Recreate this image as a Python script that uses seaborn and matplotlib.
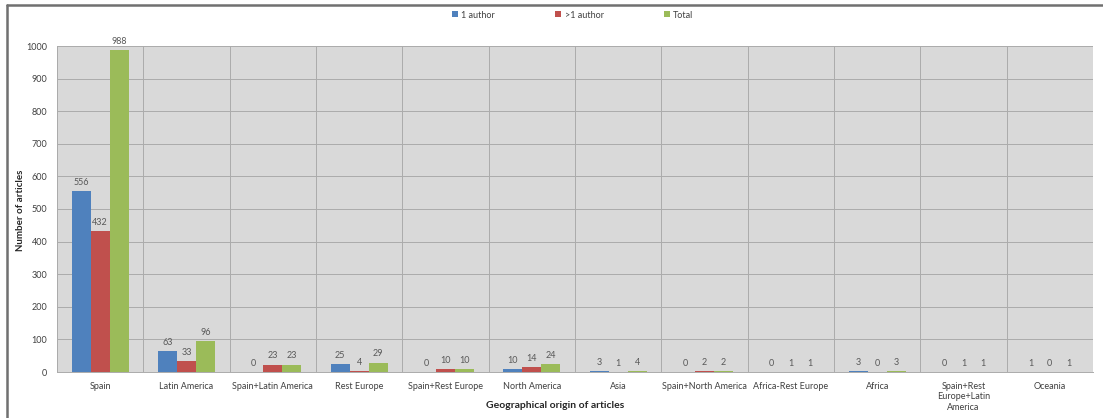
import matplotlib
matplotlib.use("Agg")
import matplotlib.pyplot as plt
from matplotlib.lines import Line2D
from matplotlib.ticker import MultipleLocator, FixedLocator
import seaborn as sns
import pandas as pd
import numpy as np

categories = ["Spain", "Latin America", "Spain+Latin America", "Rest Europe",
              "Spain+Rest Europe", "North America", "Asia", "Spain+North America",
              "Africa-Rest Europe", "Africa", "Spain+Rest\nEurope+Latin\nAmerica", "Oceania"]
one_author = [556, 63, 0, 25, 0, 10, 3, 0, 0, 3, 0, 1]
multi_author = [432, 33, 23, 4, 10, 14, 1, 2, 1, 0, 1, 0]
total = [988, 96, 23, 29, 10, 24, 4, 2, 1, 3, 1, 1]
series_names = ["1 author", ">1 author", "Total"]
colors = ["#4F81BD", "#C0504D", "#9BBB59"]

rows = []
for name, vals in zip(series_names, [one_author, multi_author, total]):
    for c, v in zip(categories, vals):
        rows.append({"cat": c, "series": name, "value": v})
df = pd.DataFrame(rows)

sns.set_theme(style="white")
plt.rcParams["font.family"] = ["Lato", "DejaVu Sans"]

W, H = 1103, 418
fig = plt.figure(figsize=(W / 100, H / 100), dpi=100)
ax = fig.add_axes([57 / W, 1 - 372 / H, (1093 - 57) / W, (372 - 46) / H])

sns.barplot(data=df, x="cat", y="value", hue="series", order=categories,
            hue_order=series_names, palette=colors, width=0.66, ax=ax,
            saturation=1, legend=False, errorbar=None, linewidth=0)

for cont in ax.containers:
    ax.bar_label(cont, padding=3, fontsize=6.5, color="#595959")

ax.set_facecolor("#D9D9D9")
ax.set_ylim(0, 1000)
ax.set_xlim(-0.5, len(categories) - 0.5)
ax.yaxis.set_major_locator(MultipleLocator(100))
ax.xaxis.set_minor_locator(FixedLocator(np.arange(-0.5, len(categories), 1.0)))
ax.grid(axis="y", which="major", color="#ABABAB", linewidth=0.7)
ax.grid(axis="x", which="minor", color="#ABABAB", linewidth=0.7)
ax.set_axisbelow(True)
for s in ["top", "right"]:
    ax.spines[s].set_visible(False)
ax.spines["left"].set_color("#ABABAB")
ax.spines["bottom"].set_color("#ABABAB")
ax.spines["left"].set_linewidth(0.7)
ax.spines["bottom"].set_linewidth(0.7)

ax.tick_params(axis="x", which="both", length=0, labelsize=6.5, colors="#404040", pad=7)
ax.tick_params(axis="y", length=3, color="#ABABAB", labelsize=6.5, labelcolor="#404040", pad=4)
ax.set_xticks(range(len(categories)))
ax.set_xticklabels(categories, linespacing=1.2, va="top")

ax.set_xlabel("")
ax.set_ylabel("")
fig.text(555 / W, 1 - 405 / H, "Geographical origin of articles", fontsize=7.5,
         fontweight="bold", color="#262626", ha="center", va="center")
fig.text(21 / W, 1 - 210 / H, "Number of articles", fontsize=7, fontweight="bold",
         color="#262626", ha="center", va="center", rotation=90)

handles = [Line2D([0], [0], marker="s", linestyle="", markersize=4.5,
                  markerfacecolor=c, markeredgewidth=0) for c in colors]
fig.legend(handles, series_names, loc="center", bbox_to_anchor=(572 / W, 1 - 15 / H),
           ncol=3, frameon=False, fontsize=6.5, handletextpad=0.2, columnspacing=6.5,
           labelcolor="#404040", handlelength=1.0)

# figure border (left and top)
fig.add_artist(Line2D([7 / W, 7 / W], [0, 1 - 5 / H], transform=fig.transFigure,
                      color="#707070", linewidth=1.8))
fig.add_artist(Line2D([7 / W, 1], [1 - 5 / H, 1 - 5 / H], transform=fig.transFigure,
                      color="#707070", linewidth=1.8))

fig.savefig("out.png", dpi=100)
